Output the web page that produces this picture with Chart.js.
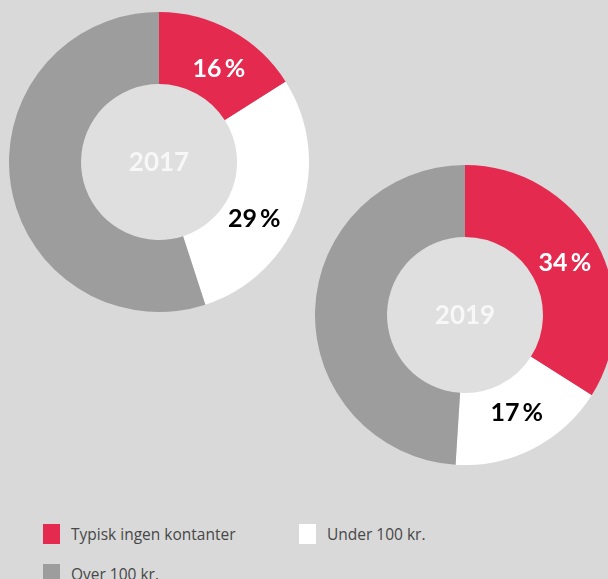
<!DOCTYPE html>
<html>
<head>
<meta charset="utf-8">
<script src="https://cdn.jsdelivr.net/npm/chart.js@4.4.1/dist/chart.umd.min.js"></script>
<style>
  html, body { margin: 0; padding: 0; width: 608px; height: 579px; overflow: hidden; background: #d9d9d9; }
  .donut { position: absolute; width: 300px; height: 300px; }
  #c2017 { left: 9px; top: 12px; }
  #c2019 { left: 315px; top: 165px; }
  #legend { position: absolute; left: 43px; top: 524px; width: 560px; display: grid; grid-template-columns: 256px 256px; row-gap: 20px;
    font-family: "Open Sans", sans-serif; font-size: 15.5px; color: #474747; }
  .item { display: flex; align-items: center; height: 20px; }
  .swatch { width: 17px; height: 20px; margin-right: 11px; flex: none; }
</style>
</head>
<body>
<canvas id="c2017" class="donut" width="300" height="300"></canvas>
<canvas id="c2019" class="donut" width="300" height="300"></canvas>
<div id="legend"></div>
<script>
const categories = ['Typisk ingen kontanter', 'Under 100 kr.', 'Over 100 kr.'];
const values2017 = [16, 29, 55];
const values2019 = [34, 17, 49];
const colors = ['#e52a50', '#ffffff', '#9d9d9d'];
const labelColors = ['#ffffff', '#000000', null];

// hole fill + year text + slice labels
const donutText = {
  id: 'donutText',
  beforeDatasetsDraw(chart) {
    const arc = chart.getDatasetMeta(0).data[0];
    const ctx = chart.ctx;
    ctx.save();
    ctx.fillStyle = '#dfdfdf';
    ctx.beginPath();
    ctx.arc(arc.x, arc.y, arc.innerRadius, 0, Math.PI * 2);
    ctx.fill();
    ctx.restore();
  },
  afterDatasetsDraw(chart, args, opts) {
    const meta = chart.getDatasetMeta(0);
    const ctx = chart.ctx;
    const first = meta.data[0];
    ctx.save();
    ctx.textAlign = 'center';
    ctx.textBaseline = 'middle';
    ctx.font = 'bold 26px Lato, sans-serif';
    ctx.fillStyle = '#f7f7f7';
    ctx.fillText(opts.year, first.x, first.y + 1);
    ctx.font = 'bold 25px Lato, sans-serif';
    meta.data.forEach((el, i) => {
      if (!labelColors[i]) return;
      const p = el.tooltipPosition();
      const off = (opts.nudge && opts.nudge[i]) || [0, 0];
      ctx.fillStyle = labelColors[i];
      ctx.fillText(chart.data.datasets[0].data[i] + '\u2009%', p.x + off[0], p.y + off[1]);
    });
    ctx.restore();
  }
};

const makeDonut = (id, values, year, nudge) => {
  new Chart(document.getElementById(id), {
    type: 'doughnut',
    data: {
      labels: categories,
      datasets: [{
        data: values,
        backgroundColor: colors,
        borderWidth: 0
      }]
    },
    options: {
      responsive: false,
      animation: false,
      cutout: '52%',
      layout: { padding: 0 },
      plugins: {
        legend: { display: false },
        tooltip: { enabled: false },
        donutText: { year: year, nudge: nudge }
      }
    },
    plugins: [donutText]
  });
};

makeDonut('c2017', values2017, '2017', [[5, 7], [-12, 18]]);
makeDonut('c2019', values2019, '2019', [[0, 3], [0, -4]]);

const legend = document.getElementById('legend');
categories.forEach((name, i) => {
  const item = document.createElement('div');
  item.className = 'item';
  item.innerHTML = '<span class="swatch" style="background:' + colors[i] + '"></span><span>' + name + '</span>';
  legend.appendChild(item);
});
</script>
</body>
</html>
